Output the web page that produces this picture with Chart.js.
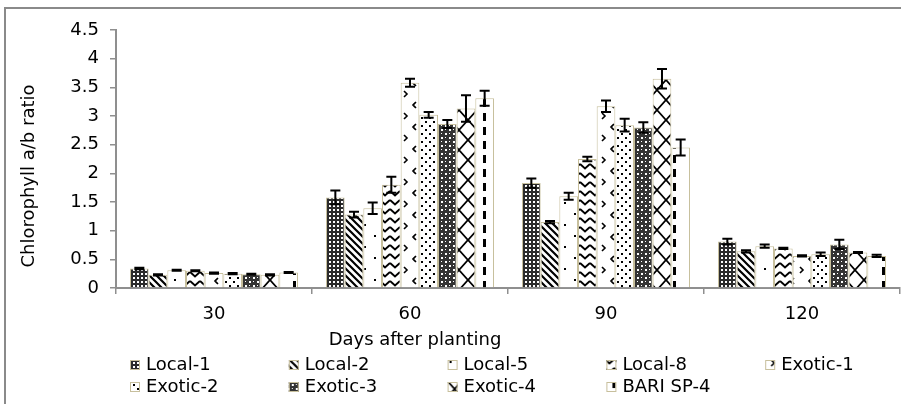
<!DOCTYPE html>
<html>
<head>
<meta charset="utf-8">
<title>Chlorophyll a/b ratio</title>
<script src="https://cdn.jsdelivr.net/npm/chart.js@4.4.1/dist/chart.umd.min.js"></script>
<style>
  html, body { margin: 0; padding: 0; background: #fff; }
  #wrap { width: 901px; height: 404px; }
</style>
</head>
<body>
<div id="wrap"><canvas id="grafikKlorofil" width="901" height="404"></canvas></div>
<script>
// days after planting (x categories) and y ticks
const hariTanam = ["30", "60", "90", "120"];
const yTicks = [0, 0.5, 1, 1.5, 2, 2.5, 3, 3.5, 4, 4.5];
const varietas = ["Local-1", "Local-2", "Local-5", "Local-8", "Exotic-1", "Exotic-2", "Exotic-3", "Exotic-4", "BARI SP-4"];

// mean chlorophyll a/b ratio per variety, one value per sampling day
const local1 = [0.34, 1.58, 1.83, 0.81];
const local2 = [0.23, 1.28, 1.15, 0.64];
const local5 = [0.31, 1.39, 1.60, 0.73];
const local8 = [0.30, 1.80, 2.25, 0.69];
const exotic1 = [0.26, 3.58, 3.17, 0.56];
const exotic2 = [0.25, 3.02, 2.84, 0.59];
const exotic3 = [0.24, 2.86, 2.80, 0.76];
const exotic4 = [0.23, 3.13, 3.65, 0.62];
const bariSp4 = [0.27, 3.31, 2.45, 0.56];

// standard error for each bar
const errLocal1 = [0.015, 0.12, 0.08, 0.05];
const errLocal2 = [0.01, 0.05, 0.02, 0.02];
const errLocal5 = [0.01, 0.10, 0.06, 0.03];
const errLocal8 = [0.01, 0.14, 0.04, 0.01];
const errExotic1 = [0.01, 0.07, 0.10, 0.01];
const errExotic2 = [0.01, 0.05, 0.11, 0.03];
const errExotic3 = [0.01, 0.07, 0.09, 0.08];
const errExotic4 = [0.01, 0.23, 0.17, 0.01];
const errBariSp4 = [0.01, 0.13, 0.14, 0.02];

const nilai = [local1, local2, local5, local8, exotic1, exotic2, exotic3, exotic4, bariSp4];
const galat = [errLocal1, errLocal2, errLocal5, errLocal8, errExotic1, errExotic2, errExotic3, errExotic4, errBariSp4];

const FONT = "'DejaVu Sans', sans-serif";
const ctxMain = document.getElementById("grafikKlorofil").getContext("2d");

// build a repeating fill from a small tile
function buatPola(w, h, gambar) {
    const c = document.createElement("canvas");
    c.width = w; c.height = h;
    const g = c.getContext("2d");
    g.fillStyle = "#fff";
    g.fillRect(0, 0, w, h);
    g.fillStyle = "#000";
    g.strokeStyle = "#000";
    gambar(g);
    return ctxMain.createPattern(c, "repeat");
}

const polaList = [
    // Local-1: dense dark checker
    buatPola(4, 4, g => { g.fillStyle = "#2b2b2b"; g.fillRect(0, 0, 4, 4); g.fillStyle = "#fff"; g.fillRect(1, 1, 2, 2); }),
    // Local-2: backward diagonals
    buatPola(7, 7, g => {
        g.lineWidth = 2.2;
        g.beginPath(); g.moveTo(-1, -1); g.lineTo(8, 8); g.moveTo(-8, -1); g.lineTo(1, 8); g.moveTo(6, -1); g.lineTo(15, 8); g.stroke();
    }),
    // Local-5: sparse dots
    buatPola(20, 22, g => { g.fillRect(4, 4, 2, 2); g.fillRect(14, 15, 2, 2); }),
    // Local-8: stacked chevrons
    buatPola(10, 9, g => {
        g.lineWidth = 2;
        g.beginPath(); g.moveTo(0, 2); g.lineTo(5, 6.5); g.lineTo(10, 2); g.stroke();
    }),
    // Exotic-1: small arrow marks
    buatPola(18, 22, g => {
        g.lineWidth = 1.6;
        g.beginPath(); g.moveTo(8, 3); g.lineTo(11, 6); g.lineTo(8, 9); g.stroke();
        g.beginPath(); g.moveTo(2, 14); g.lineTo(-1, 17); g.lineTo(2, 20); g.stroke();
        g.beginPath(); g.moveTo(20, 14); g.lineTo(17, 17); g.lineTo(20, 20); g.stroke();
    }),
    // Exotic-2: staggered dot grid
    buatPola(8, 8, g => { g.fillRect(1, 1, 2, 2); g.fillRect(5, 5, 2, 2); }),
    // Exotic-3: checker with light crosses
    buatPola(8, 8, g => {
        g.fillStyle = "#333"; g.fillRect(0, 0, 8, 8);
        g.fillStyle = "#fff"; g.fillRect(1, 1, 2, 2); g.fillRect(5, 5, 2, 2); g.fillRect(5, 1, 1, 1); g.fillRect(1, 5, 1, 1);
    }),
    // Exotic-4: large diamond lattice
    buatPola(18, 20, g => {
        g.lineWidth = 1.8;
        g.beginPath(); g.moveTo(0, 0); g.lineTo(18, 20); g.moveTo(18, 0); g.lineTo(0, 20); g.stroke();
    }),
    // BARI SP-4: vertical dashes
    buatPola(19, 14, g => { g.fillRect(8, 1, 3, 8); })
];

const WARNA_TEPI = "#c7bf9c";
const AXIS_GRAY = "#8f8f8f";

// outer frame behind the chart
const bingkaiPlugin = {
    id: "bingkai",
    beforeDraw(chart) {
        const c = chart.ctx;
        c.save();
        c.fillStyle = "#fff";
        c.fillRect(0, 0, chart.width, chart.height);
        c.fillStyle = "#8a8a8a";
        c.fillRect(4, 7, chart.width - 4, 2);
        c.fillRect(4, 7, 2, chart.height - 7);
        c.restore();
    }
};

// error bars drawn on top of each bar
const galatPlugin = {
    id: "galatBar",
    afterDatasetsDraw(chart) {
        const c = chart.ctx;
        const yScale = chart.scales.y;
        c.save();
        c.strokeStyle = "#000";
        c.lineWidth = 2;
        chart.data.datasets.forEach((ds, i) => {
            const meta = chart.getDatasetMeta(i);
            meta.data.forEach((bar, j) => {
                const v = ds.data[j], e = galat[i][j];
                const yAtas = yScale.getPixelForValue(v + e);
                const yBawah = yScale.getPixelForValue(v - e);
                const x = bar.x;
                c.beginPath();
                c.moveTo(x, yAtas); c.lineTo(x, yBawah);
                c.moveTo(x - 5, yAtas); c.lineTo(x + 5, yAtas);
                c.moveTo(x - 5, yBawah); c.lineTo(x + 5, yBawah);
                c.stroke();
            });
        });
        c.restore();
    }
};

// axis titles and the two-row legend underneath the axis
const bawahPlugin = {
    id: "judulLegenda",
    afterDraw(chart) {
        const c = chart.ctx;
        c.save();
        c.fillStyle = "#000";
        c.font = "18px " + FONT;
        c.textBaseline = "middle";
        c.textAlign = "center";
        c.fillText("Days after planting", 415, 340);

        c.save();
        c.translate(29, 176);
        c.rotate(-Math.PI / 2);
        c.fillText("Chlorophyll a/b ratio", 0, 0);
        c.restore();

        c.textAlign = "left";
        chart.data.datasets.forEach((ds, i) => {
            const kol = i % 5, baris = Math.floor(i / 5);
            const x = 130 + kol * 158.8;
            const y = 365 + baris * 22;
            // anchor the tile to the swatch so it shows a piece of the fill
            const pola = ds.backgroundColor;
            pola.setTransform(new DOMMatrix().translate(x - 2, y - 8));
            c.fillStyle = pola;
            c.fillRect(x, y - 5, 10, 10);
            pola.setTransform(new DOMMatrix());
            c.strokeStyle = WARNA_TEPI;
            c.lineWidth = 1;
            c.strokeRect(x + 0.5, y - 4.5, 9, 9);
            c.fillStyle = "#000";
            c.fillText(ds.label, x + 16, y);
        });
        c.restore();
    }
};

new Chart(ctxMain, {
    type: "bar",
    data: {
        labels: hariTanam,
        datasets: varietas.map((nama, i) => ({
            label: nama,
            data: nilai[i],
            backgroundColor: polaList[i],
            borderColor: WARNA_TEPI,
            borderWidth: 1,
            categoryPercentage: 0.857,
            barPercentage: 1
        }))
    },
    options: {
        responsive: false,
        animation: false,
        events: [],
        layout: { padding: { top: 30, right: 1, left: 0, bottom: 0 } },
        plugins: { legend: { display: false }, tooltip: { enabled: false } },
        scales: {
            x: {
                afterFit(scale) { scale.height = 116; },
                grid: { offset: true, drawOnChartArea: false, tickLength: 6, color: AXIS_GRAY, lineWidth: 1.5 },
                border: { color: AXIS_GRAY, width: 2 },
                ticks: { color: "#000", font: { family: FONT, size: 18 }, padding: 10 }
            },
            y: {
                min: 0,
                max: 4.5,
                afterFit(scale) { scale.width = 116; },
                afterBuildTicks(scale) { scale.ticks = yTicks.map(v => ({ value: v })); },
                grid: { drawOnChartArea: false, tickLength: 6, color: AXIS_GRAY, lineWidth: 1.5 },
                border: { color: AXIS_GRAY, width: 2 },
                ticks: { color: "#000", font: { family: FONT, size: 18 }, padding: 11, callback: v => String(v) }
            }
        }
    },
    plugins: [bingkaiPlugin, galatPlugin, bawahPlugin]
});
</script>
</body>
</html>
